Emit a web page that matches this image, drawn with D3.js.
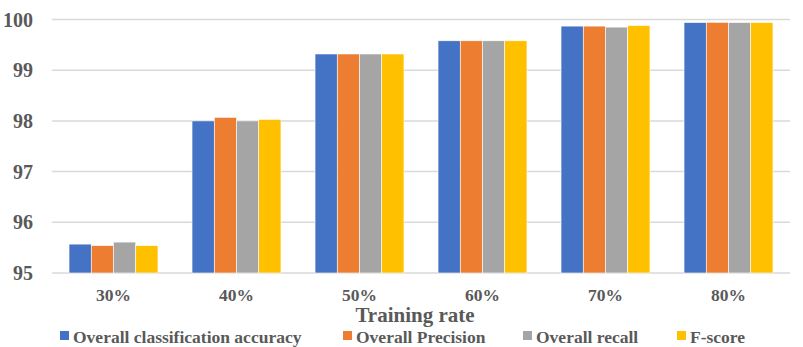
<!DOCTYPE html>
<html>
<head>
<meta charset="utf-8">
<script src="https://d3js.org/d3.v7.min.js"></script>
<style>
body { margin: 0; background: #fff; }
svg text { font-family: 'Liberation Serif', 'Times New Roman', serif; font-weight: bold; fill: #595959; }
</style>
</head>
<body>
<svg id="chart" width="803" height="347"></svg>
<script>
// data
var rates = ['30%', '40%', '50%', '60%', '70%', '80%'];
var seriesNames = ['Overall classification accuracy', 'Overall Precision', 'Overall recall', 'F-score'];
var accuracy  = [95.57, 98.00, 99.32, 99.58, 99.87, 99.94];
var precision = [95.54, 98.07, 99.32, 99.58, 99.87, 99.945];
var recall    = [95.61, 98.00, 99.32, 99.58, 99.85, 99.94];
var fscore    = [95.54, 98.03, 99.32, 99.58, 99.88, 99.94];
var yTicks = [95, 96, 97, 98, 99, 100];

var colors = ['#4472C4', '#ED7D31', '#A5A5A5', '#FFC000'];
var allSeries = [accuracy, precision, recall, fscore];

var svg = d3.select('#chart');
var plotLeft = 52, plotRight = 790, plotTop = 19.5, plotBottom = 273;

var x = d3.scaleBand().domain(rates).range([plotLeft, plotRight]).paddingInner(0.277).paddingOuter(0.1385);
var xs = d3.scaleBand().domain(d3.range(4)).range([0, x.bandwidth()]);
var y = d3.scaleLinear().domain([95, 100]).range([plotBottom, plotTop]);

// gridlines
svg.append('g')
  .selectAll('line')
  .data(yTicks)
  .enter().append('line')
  .attr('x1', plotLeft).attr('x2', plotRight)
  .attr('y1', function(d) { return y(d); })
  .attr('y2', function(d) { return y(d); })
  .attr('stroke', '#D9D9D9')
  .attr('stroke-width', 1.5);

// y tick labels
svg.append('g')
  .selectAll('text')
  .data(yTicks)
  .enter().append('text')
  .attr('x', 33)
  .attr('y', function(d) { return y(d) + 7; })
  .attr('text-anchor', 'end')
  .style('font-size', '20px')
  .text(function(d) { return d; });

// bars
var groups = svg.append('g')
  .selectAll('g')
  .data(rates)
  .enter().append('g')
  .attr('transform', function(d) { return 'translate(' + x(d) + ',0)'; });

groups.selectAll('rect')
  .data(function(d, i) { return allSeries.map(function(s, k) { return { k: k, v: s[i] }; }); })
  .enter().append('rect')
  .attr('x', function(d) { return xs(d.k); })
  .attr('width', xs.bandwidth())
  .attr('y', function(d) { return y(d.v); })
  .attr('height', function(d) { return plotBottom - y(d.v); })
  .attr('fill', function(d) { return colors[d.k]; })
  .attr('stroke', '#fff')
  .attr('stroke-width', 0.6);

// x axis labels
svg.append('g')
  .selectAll('text')
  .data(rates)
  .enter().append('text')
  .attr('x', function(d) { return x(d) + x.bandwidth() / 2; })
  .attr('y', 301)
  .attr('text-anchor', 'middle')
  .style('font-size', '17.5px')
  .text(function(d) { return d; });

// axis title
svg.append('text')
  .attr('x', 415)
  .attr('y', 322)
  .attr('text-anchor', 'middle')
  .style('font-size', '21px')
  .text('Training rate');

// legend
var legendX = [60, 343, 523, 677];
var legend = svg.append('g')
  .selectAll('g')
  .data(seriesNames)
  .enter().append('g')
  .attr('transform', function(d, i) { return 'translate(' + legendX[i] + ',0)'; });

legend.append('rect')
  .attr('x', 0).attr('y', 331)
  .attr('width', 9).attr('height', 9)
  .attr('fill', function(d, i) { return colors[i]; });

legend.append('text')
  .attr('x', 13)
  .attr('y', 343)
  .style('font-size', '17.5px')
  .text(function(d) { return d; });
</script>
</body>
</html>
